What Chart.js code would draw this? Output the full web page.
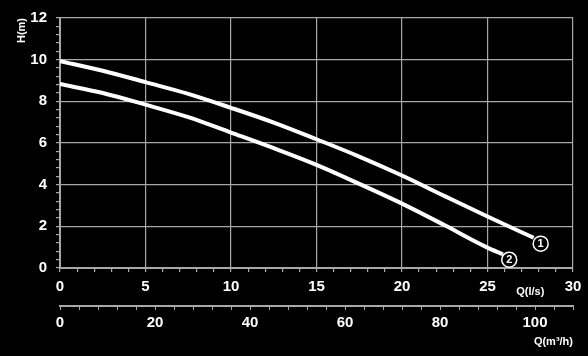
<!DOCTYPE html>
<html>
<head>
<meta charset="utf-8">
<script src="https://cdn.jsdelivr.net/npm/chart.js@4"></script>
<style>
html,body{margin:0;padding:0;background:#000;}
canvas{display:block;}
</style>
</head>
<body>
<canvas id="c" width="588" height="356"></canvas>
<script>
// Data
const flow1 = [0, 2.5, 5, 7.5, 10, 12.5, 15, 17.5, 20, 22.5, 25, 27.7];              // Q (l/s)
const head1 = [9.93, 9.47, 8.92, 8.36, 7.69, 6.98, 6.18, 5.35, 4.44, 3.45, 2.47, 1.45]; // H (m)
const flow2 = [0, 2.5, 5, 7.5, 10, 12.5, 15, 17.5, 20, 22.5, 25, 25.9];
const head2 = [8.83, 8.4, 7.84, 7.24, 6.5, 5.75, 4.95, 4.04, 3.09, 2.05, 0.98, 0.66];
const markerNames = ['1', '2'];
const markerFlow = [28.11, 26.27];
const markerHead = [1.17, 0.40];
const xRange = [0, 30];      // l/s
const x2Range = [0, 108];    // m3/h
const yRange = [0, 12];

const GRID = '#a8a8a8';
const FONT = "'Liberation Sans', Arial, sans-serif";

const pts = (xs, ys) => xs.map((x, i) => ({x, y: ys[i]}));

const markerPlugin = {
  id: 'markerText',
  afterDatasetsDraw(chart) {
    const ctx = chart.ctx;
    ctx.save();
    ctx.fillStyle = '#fff';
    ctx.textAlign = 'center';
    ctx.textBaseline = 'middle';
    ctx.font = 'bold 11px ' + FONT;
    [2, 3].forEach((di, k) => {
      const el = chart.getDatasetMeta(di).data[0];
      ctx.fillText(markerNames[k], el.x, el.y + 0.5);
    });
    // Q(l/s) label next to the l/s tick labels
    const xs = chart.scales.x;
    ctx.fillText('Q(l/s)', xs.getPixelForValue(27.5), xs.top + 24);
    ctx.restore();
  }
};

new Chart(document.getElementById('c'), {
  type: 'line',
  data: {
    datasets: [
      {data: pts(flow1, head1), borderColor: '#fff', borderWidth: 4, pointRadius: 0, cubicInterpolationMode: 'monotone', fill: false},
      {data: pts(flow2, head2), borderColor: '#fff', borderWidth: 4, pointRadius: 0, cubicInterpolationMode: 'monotone', fill: false},
      {data: [{x: markerFlow[0], y: markerHead[0]}], showLine: false, pointRadius: 7.5, pointBackgroundColor: '#000', pointBorderColor: '#fff', pointBorderWidth: 1.5},
      {data: [{x: markerFlow[1], y: markerHead[1]}], showLine: false, pointRadius: 7.5, pointBackgroundColor: '#000', pointBorderColor: '#fff', pointBorderWidth: 1.5}
    ]
  },
  options: {
    responsive: false,
    animation: false,
    devicePixelRatio: 1,
    layout: {padding: {top: 12, right: 15, bottom: 0, left: 0}},
    plugins: {legend: {display: false}, tooltip: {enabled: false}},
    scales: {
      x: {
        type: 'linear', position: 'bottom', min: xRange[0], max: xRange[1],
        afterFit(s) { s.height = 38; },
        border: {display: true, color: GRID, width: 2},
        grid: {
          color: c => (c.tick && c.tick.value % 5 === 0) ? GRID : 'transparent',
          tickColor: GRID, tickLength: 4, lineWidth: 1.2
        },
        ticks: {
          stepSize: 1, autoSkip: false, maxRotation: 0, minRotation: 0, padding: 6,
          color: '#fff', font: {family: FONT, size: 15, weight: 'bold'},
          callback: v => (v % 5 === 0 ? String(v) : '')
        }
      },
      x2: {
        type: 'linear', position: 'bottom', min: x2Range[0], max: x2Range[1],
        afterFit(s) { s.height = 50; },
        border: {display: true, color: GRID, width: 2},
        grid: {drawOnChartArea: false, tickColor: GRID, tickLength: 4},
        ticks: {
          stepSize: 4, autoSkip: false, maxRotation: 0, minRotation: 0, padding: 4,
          color: '#fff', font: {family: FONT, size: 15, weight: 'bold'},
          callback: v => (v % 20 === 0 ? String(v) : '')
        },
        title: {display: true, text: 'Q(m³/h)', align: 'end', color: '#fff',
                font: {family: FONT, size: 11, weight: 'bold'}, padding: {top: 0, bottom: 7}}
      },
      y: {
        type: 'linear', min: yRange[0], max: yRange[1],
        afterFit(s) { s.width = 60; },
        border: {display: true, color: GRID, width: 2},
        grid: {
          color: c => (c.tick && Math.abs(c.tick.value / 2 - Math.round(c.tick.value / 2)) < 1e-6) ? GRID : 'transparent',
          tickColor: GRID, tickLength: 4, lineWidth: 1.2
        },
        ticks: {
          stepSize: 0.4, autoSkip: false, padding: 9,
          color: '#fff', font: {family: FONT, size: 15, weight: 'bold'},
          callback: v => (Math.abs(v / 2 - Math.round(v / 2)) < 1e-6 ? String(Math.round(v)) : '')
        },
        title: {display: true, text: 'H(m)', align: 'end', color: '#fff',
                font: {family: FONT, size: 11, weight: 'bold'}, padding: {top: 15, bottom: 0}}
      }
    }
  },
  plugins: [markerPlugin]
});
</script>
</body>
</html>
